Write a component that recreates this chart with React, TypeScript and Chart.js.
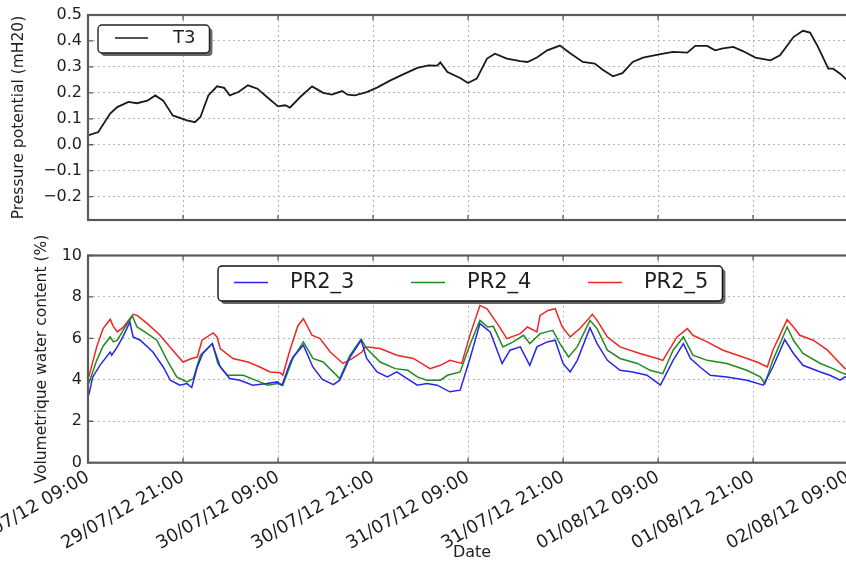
import { useEffect, useRef } from 'react';
import { Chart, registerables } from 'chart.js';

Chart.register(...registerables);
Chart.defaults.font.family = '"DejaVu Sans", sans-serif';
Chart.defaults.color = '#222';

// Hours elapsed since 29/07/12 09:00, one tick every 12 hours
const HOUR_TICKS = [0, 12, 24, 36, 48, 60, 72, 84, 96];
const DATE_LABELS = [
  '29/07/12 09:00', '29/07/12 21:00', '30/07/12 09:00', '30/07/12 21:00',
  '31/07/12 09:00', '31/07/12 21:00', '01/08/12 09:00', '01/08/12 21:00',
  '02/08/12 09:00',
];
const HOUR_MAX = 97;

const PRESSURE_TICKS = [-0.2, -0.1, 0, 0.1, 0.2, 0.3, 0.4, 0.5];
const WATER_TICKS = [0, 2, 4, 6, 8, 10];

// Tensiometer T3: [hours, pressure potential in mH20]
const T3: [number, number][] = [
  [0, 0.036], [1.3, 0.049], [2.8, 0.12], [3.7, 0.145], [5.1, 0.165], [6.2, 0.16], [7.5, 0.17],
  [8.5, 0.19], [9.5, 0.17], [10.7, 0.113], [12.5, 0.094], [13.5, 0.087], [14.2, 0.107],
  [15.2, 0.19], [16.3, 0.225], [17.2, 0.219], [17.9, 0.19], [19.0, 0.203], [20.2, 0.229],
  [21.4, 0.216], [22.6, 0.184], [24.0, 0.148], [24.9, 0.152], [25.5, 0.143], [26.8, 0.184],
  [28.3, 0.225], [29.7, 0.2], [30.8, 0.193], [32.1, 0.207], [32.8, 0.193], [33.7, 0.19],
  [35.2, 0.203], [36.5, 0.22], [38.2, 0.248], [39.8, 0.271], [41.6, 0.296], [43.0, 0.306],
  [44.1, 0.305], [44.5, 0.317], [45.4, 0.28], [47.0, 0.257], [48.0, 0.238], [49.1, 0.255],
  [50.4, 0.332], [51.4, 0.351], [52.9, 0.332], [54.6, 0.322], [55.5, 0.319], [56.7, 0.336],
  [58.0, 0.364], [59.6, 0.382], [60.9, 0.353], [62.5, 0.319], [64.0, 0.313], [65.1, 0.287],
  [66.3, 0.264], [67.5, 0.276], [68.8, 0.319], [70.1, 0.336], [72.3, 0.349], [73.9, 0.358],
  [75.7, 0.355], [76.7, 0.381], [78.2, 0.381], [79.2, 0.364], [80.2, 0.371], [81.5, 0.377],
  [82.7, 0.361], [84.3, 0.336], [86.2, 0.325], [87.4, 0.345], [89.1, 0.415], [90.3, 0.439],
  [91.2, 0.432], [92.2, 0.377], [93.5, 0.293], [94.1, 0.293], [95.0, 0.274], [95.9, 0.248],
  [96.6, 0.235],
];

// Probe PR2: [hours, volumetric water content in %]
const PR2_3: [number, number][] = [
  [0.1, 3.26], [0.6, 4.14], [1.5, 4.7], [2.8, 5.34], [3.0, 5.19], [3.7, 5.59], [4.4, 6.07],
  [5.3, 6.79], [5.7, 6.07], [6.6, 5.91], [8.2, 5.34], [9.5, 4.62], [10.4, 3.98], [11.6, 3.74],
  [12.5, 3.82], [13.1, 3.63], [13.8, 4.62], [14.5, 5.27], [15.7, 5.75], [16.7, 4.62],
  [17.9, 4.06], [19.2, 3.98], [20.8, 3.74], [22.6, 3.82], [23.9, 3.9], [24.5, 3.74],
  [25.5, 4.79], [25.9, 5.1], [27.2, 5.67], [28.4, 4.62], [29.6, 4.02], [31.0, 3.77],
  [31.8, 3.98], [33.1, 5.1], [34.5, 5.91], [35.2, 5.03], [36.5, 4.38], [37.8, 4.14],
  [39.0, 4.38], [40.3, 4.06], [41.6, 3.74], [42.8, 3.82], [44.1, 3.74], [45.7, 3.42],
  [47.0, 3.5], [48.3, 5.1], [49.5, 6.71], [50.8, 6.31], [52.3, 4.79], [53.3, 5.43],
  [54.6, 5.59], [55.8, 4.7], [56.7, 5.59], [58.0, 5.83], [59.0, 5.91], [60.0, 4.79],
  [60.9, 4.38], [61.8, 4.94], [63.4, 6.52], [64.3, 5.75], [65.6, 4.94], [67.2, 4.46],
  [68.8, 4.38], [70.6, 4.22], [72.3, 3.74], [73.9, 4.94], [75.2, 5.75], [76.1, 5.03],
  [77.3, 4.62], [78.6, 4.22], [80.7, 4.14], [83.2, 3.98], [85.3, 3.74], [86.5, 4.62],
  [88.0, 5.94], [89.1, 5.27], [90.3, 4.7], [92.5, 4.38], [93.7, 4.22], [95.0, 3.98],
  [95.6, 4.14], [96.5, 4.0],
];

const PR2_4: [number, number][] = [
  [0.1, 3.82], [1.1, 4.94], [1.9, 5.62], [2.8, 6.07], [3.2, 5.83], [3.7, 5.91], [4.7, 6.55],
  [5.6, 7.08], [6.2, 6.55], [7.5, 6.23], [8.7, 5.91], [10.0, 4.94], [11.2, 4.14], [12.5, 3.9],
  [13.3, 4.06], [14.2, 5.19], [15.7, 5.75], [16.4, 4.79], [17.6, 4.22], [19.6, 4.22],
  [21.7, 3.9], [22.7, 3.74], [23.9, 3.82], [24.6, 3.74], [25.9, 5.05], [27.2, 5.83],
  [28.4, 5.03], [29.7, 4.86], [31.8, 4.06], [33.1, 5.19], [34.5, 5.96], [35.2, 5.51],
  [36.9, 4.86], [38.8, 4.54], [40.4, 4.46], [41.6, 4.14], [42.8, 3.98], [44.5, 3.98],
  [45.4, 4.22], [47.0, 4.38], [48.3, 5.75], [49.5, 6.87], [50.5, 6.55], [51.2, 6.58],
  [52.4, 5.59], [53.7, 5.83], [55.0, 6.15], [55.8, 5.75], [57.1, 6.23], [58.7, 6.39],
  [59.6, 5.75], [60.7, 5.1], [61.8, 5.6], [63.4, 6.87], [64.3, 6.47], [65.6, 5.43],
  [67.2, 5.03], [69.4, 4.79], [71.0, 4.46], [72.6, 4.3], [73.9, 5.43], [75.2, 6.07],
  [76.4, 5.19], [78.2, 4.94], [80.7, 4.79], [83.2, 4.46], [84.9, 4.14], [85.5, 3.82],
  [86.5, 4.94], [88.3, 6.55], [89.1, 5.91], [90.3, 5.27], [92.5, 4.79], [94.1, 4.54],
  [95.4, 4.3], [96.5, 4.2],
];

const PR2_5: [number, number][] = [
  [0.1, 4.14], [1.1, 5.59], [1.9, 6.47], [2.8, 6.92], [3.2, 6.58], [3.7, 6.31], [4.4, 6.52],
  [5.7, 7.16], [6.2, 7.11], [7.5, 6.71], [9.1, 6.15], [10.7, 5.43], [12.0, 4.86], [13.1, 5.03],
  [13.8, 5.1], [14.4, 5.91], [15.8, 6.26], [16.3, 6.07], [16.7, 5.51], [18.3, 5.03],
  [20.2, 4.86], [21.7, 4.62], [23.0, 4.38], [24.3, 4.34], [24.6, 4.22], [25.5, 5.43],
  [26.5, 6.6], [27.2, 6.95], [28.3, 6.15], [29.3, 5.99], [30.6, 5.34], [32.2, 4.79],
  [33.4, 5.03], [34.6, 5.34], [35.0, 5.59], [36.9, 5.51], [39.0, 5.19], [41.1, 5.03],
  [43.2, 4.54], [44.5, 4.7], [45.7, 4.94], [47.2, 4.79], [48.3, 6.23], [49.5, 7.59],
  [50.4, 7.43], [51.7, 6.71], [52.9, 5.99], [54.6, 6.23], [55.5, 6.55], [56.7, 6.31],
  [57.1, 7.11], [58.1, 7.35], [59.0, 7.43], [59.9, 6.55], [60.9, 6.07], [62.2, 6.5],
  [63.7, 7.16], [64.3, 6.87], [65.6, 6.07], [67.2, 5.59], [69.7, 5.27], [71.9, 5.03],
  [72.6, 4.94], [74.4, 6.07], [75.7, 6.47], [76.4, 6.15], [78.2, 5.83], [80.2, 5.43],
  [82.7, 5.1], [84.5, 4.86], [85.8, 4.62], [86.5, 5.43], [88.3, 6.9], [89.1, 6.55],
  [89.9, 6.15], [91.6, 5.91], [93.4, 5.43], [94.6, 4.94], [95.6, 4.54], [96.5, 4.45],
];

const FONT = '"DejaVu Sans", sans-serif';
const FRAME = '#5a5a5a';
const GRID = '#b4b4b4';
const GRID_DASH = [2, 3];

const toPoints = (series: [number, number][]) => series.map(([x, y]) => ({ x, y }));

// Axes frame drawn on top of the data, with short inward tick marks
const framePlugin = {
  id: 'frame',
  afterDatasetsDraw(chart: any) {
    const { ctx, chartArea, scales } = chart;
    const { left, top, right, bottom } = chartArea;
    ctx.save();
    ctx.strokeStyle = FRAME;
    ctx.lineWidth = 1.3;
    ctx.beginPath();
    scales.x.ticks.forEach((t: any) => {
      const px = scales.x.getPixelForValue(t.value);
      ctx.moveTo(px, bottom); ctx.lineTo(px, bottom - 5);
      ctx.moveTo(px, top); ctx.lineTo(px, top + 5);
    });
    scales.y.ticks.forEach((t: any) => {
      const py = scales.y.getPixelForValue(t.value);
      ctx.moveTo(left, py); ctx.lineTo(left + 5, py);
      ctx.moveTo(right, py); ctx.lineTo(right - 5, py);
    });
    ctx.stroke();
    ctx.lineWidth = 2.2;
    ctx.strokeRect(left, top, right - left, bottom - top);
    ctx.restore();
  },
};

// Framed legend with a drop shadow, placed inside the plot area
const boxLegendPlugin = {
  id: 'boxLegend',
  afterDraw(chart: any, _args: any, opts: any) {
    const { ctx, chartArea } = chart;
    const items = chart.data.datasets.map((d: any) => ({ label: d.label, color: d.borderColor }));
    ctx.save();
    ctx.font = `${opts.fontSize}px ${FONT}`;
    let w = opts.padLeft;
    items.forEach((it: any, i: number) => {
      w += opts.sample + opts.gap + ctx.measureText(it.label).width;
      if (i < items.length - 1) w += opts.itemGap;
    });
    w += opts.padRight;
    const x0 = chartArea.left + opts.dx;
    const y0 = chartArea.top + opts.dy;
    const h = opts.height;
    ctx.fillStyle = 'rgba(0,0,0,0.6)';
    ctx.beginPath();
    ctx.roundRect(x0 + 3, y0 + 3, w, h, 4);
    ctx.fill();
    ctx.fillStyle = '#fff';
    ctx.strokeStyle = opts.border;
    ctx.lineWidth = 1.4;
    ctx.beginPath();
    ctx.roundRect(x0, y0, w, h, 4);
    ctx.fill();
    ctx.stroke();
    const cy = y0 + h / 2 - 1;
    let x = x0 + opts.padLeft;
    items.forEach((it: any) => {
      ctx.strokeStyle = it.color;
      ctx.lineWidth = 1.3;
      ctx.beginPath();
      ctx.moveTo(x, cy);
      ctx.lineTo(x + opts.sample, cy);
      ctx.stroke();
      x += opts.sample + opts.gap;
      ctx.fillStyle = '#1e1e1e';
      ctx.textAlign = 'left';
      ctx.textBaseline = 'middle';
      ctx.fillText(it.label, x, cy);
      x += ctx.measureText(it.label).width + opts.itemGap;
    });
    ctx.restore();
  },
};

const fixedTicks = (values: number[]) => (scale: any) => {
  scale.ticks = values.map((value) => ({ value }));
};

const yAxis = (title: string, titlePad: number, ticks: number[], min: number, max: number, fmt: (v: number) => string) => ({
  type: 'linear',
  position: 'left',
  min,
  max,
  afterBuildTicks: fixedTicks(ticks),
  afterFit: (s: any) => {
    s.width = 88;
    s.paddingTop = 0; s.paddingBottom = 0;
  },
  grid: { color: GRID, lineWidth: 1, drawTicks: false },
  border: { display: false, dash: GRID_DASH },
  ticks: { font: { size: 16 }, padding: 6, color: '#1e1e1e', callback: (v: number) => fmt(v) },
  title: { display: true, text: title, font: { size: 15.5 }, color: '#1e1e1e', padding: { top: titlePad, bottom: 0 } },
});

const xAxis = (showLabels: boolean, height: number) => ({
  type: 'linear',
  position: 'bottom',
  min: 0,
  max: HOUR_MAX,
  afterBuildTicks: fixedTicks(HOUR_TICKS),
  afterFit: (s: any) => {
    s.height = height;
    s.paddingLeft = 0; s.paddingRight = 0;
  },
  grid: { color: GRID, lineWidth: 1, drawTicks: false },
  border: { display: false, dash: GRID_DASH },
  ticks: {
    display: showLabels,
    autoSkip: false,
    minRotation: 30,
    maxRotation: 30,
    padding: 4,
    font: { size: 18 },
    color: '#1e1e1e',
    callback: (_v: number, i: number) => DATE_LABELS[i],
  },
  title: { display: showLabels, text: 'Date', font: { size: 16 }, color: '#1e1e1e', padding: { top: 0, bottom: 0 } },
});

function PressureChart() {
  const ref = useRef<HTMLCanvasElement>(null);
  useEffect(() => {
    const chart = new Chart(ref.current!, {
      type: 'line',
      data: {
        datasets: [
          { label: 'T3', data: toPoints(T3), borderColor: '#1a1a1a', borderWidth: 1.8, pointRadius: 0, tension: 0 },
        ],
      },
      options: {
        responsive: false,
        animation: false,
        events: [],
        layout: { padding: { left: 0, right: 14, top: 15, bottom: 0 } },
        plugins: {
          legend: { display: false },
          tooltip: { enabled: false },
          boxLegend: { dx: 10, dy: 10, height: 28, fontSize: 18, padLeft: 17, sample: 33, gap: 25, itemGap: 0, padRight: 14, border: '#222' },
        } as any,
        scales: {
          x: xAxis(false, 20),
          y: yAxis('Pressure potential (mH20)', 10, PRESSURE_TICKS, -0.29, 0.5, (v) =>
            (v < 0 ? '\u2212' : '') + Math.abs(v).toFixed(1)),
        } as any,
      },
      plugins: [framePlugin, boxLegendPlugin],
    } as any);
    return () => chart.destroy();
  }, []);
  return (
    <canvas ref={ref} width={870} height={240}
      style={{ position: 'absolute', left: 0, top: 0, width: 870, height: 240 }} />
  );
}

function WaterChart() {
  const ref = useRef<HTMLCanvasElement>(null);
  useEffect(() => {
    const line = (label: string, series: [number, number][], color: string) => ({
      label, data: toPoints(series), borderColor: color, borderWidth: 1.5, pointRadius: 0, tension: 0,
    });
    const chart = new Chart(ref.current!, {
      type: 'line',
      data: {
        datasets: [
          line('PR2_3', PR2_3, '#2626ee'),
          line('PR2_4', PR2_4, '#1f8c1f'),
          line('PR2_5', PR2_5, '#ee2626'),
        ],
      },
      options: {
        responsive: false,
        animation: false,
        events: [],
        layout: { padding: { left: 0, right: 14, top: 33.5, bottom: 0 } },
        plugins: {
          legend: { display: false },
          tooltip: { enabled: false },
          boxLegend: { dx: 130, dy: 10.5, height: 35, fontSize: 21, padLeft: 16, sample: 34, gap: 22, itemGap: 56.5, padRight: 14, border: '#111' },
        } as any,
        scales: {
          x: xAxis(true, 99.3),
          y: yAxis('Volumetrique water content (%)', 33, WATER_TICKS, 0, 10, (v) => String(v)),
        } as any,
      },
      plugins: [framePlugin, boxLegendPlugin],
    } as any);
    return () => chart.destroy();
  }, []);
  return (
    <canvas ref={ref} width={870} height={340}
      style={{ position: 'absolute', left: 0, top: 222, width: 870, height: 340 }} />
  );
}

export default function App() {
  return (
    <div style={{ position: 'fixed', left: 0, top: 0, width: 846, height: 562, overflow: 'hidden', background: '#fff' }}>
      <PressureChart />
      <WaterChart />
    </div>
  );
}
